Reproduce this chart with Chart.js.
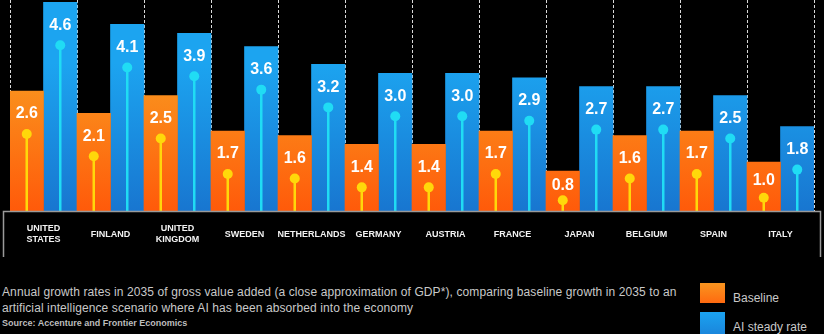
<!DOCTYPE html>
<html>
<head>
<meta charset="utf-8">
<script src="https://cdn.jsdelivr.net/npm/chart.js@4/dist/chart.umd.min.js"></script>
<style>
body{
margin:0;
background:#000;
width:824px;
height:334px;
overflow:hidden;
position:relative;
font-family:"Liberation Sans",Arial,sans-serif;
}
#wrap{
position:absolute;
left:0;
top:0;
width:824px;
height:260px;
}
.cap{
position:absolute;
left:2px;
color:#c9c9c9;
font-size:12px;
letter-spacing:0.1px;
white-space:nowrap;
}
.src{
position:absolute;
left:2px;
color:#bdbdbd;
font-size:9px;
font-weight:bold;
white-space:nowrap;
}
.key{
position:absolute;
left:700px;
width:25px;
}
.keytxt{
position:absolute;
left:733px;
color:#c9c9c9;
font-size:12px;
white-space:nowrap;
}
</style>
</head>
<body>

<div id="wrap"><canvas id="growthChart"></canvas></div>

<div class="cap" style="top:285px">Annual growth rates in 2035 of gross value added (a close approximation of GDP*), comparing baseline growth in 2035 to an</div>
<div class="cap" style="top:301px">artificial intelligence scenario where AI has been absorbed into the economy</div>
<div class="src" style="top:318px">Source: Accenture and Frontier Economics</div>

<div class="key" style="top:283px;height:20px;background:linear-gradient(#f9951f,#ff6a10)"></div>
<div class="keytxt" style="top:291px">Baseline</div>
<div class="key" style="top:312px;height:22px;background:linear-gradient(#1ba3f0,#1a86dc)"></div>
<div class="keytxt" style="top:320px">AI steady rate</div>

<script>

const countries = [
['UNITED','STATES'],
'FINLAND',
['UNITED','KINGDOM'],
'SWEDEN',
'NETHERLANDS',
'GERMANY',
'AUSTRIA',
'FRANCE',
'JAPAN',
'BELGIUM',
'SPAIN',
'ITALY'
];

const baseline =
[2.6,2.1,2.5,1.7,1.6,1.4,1.4,1.7,0.8,1.6,1.7,1.0];

const aiSteady =
[4.6,4.1,3.9,3.6,3.2,3.0,3.0,2.9,2.7,2.7,2.5,1.8];

const seriesNames = ['Baseline','AI steady rate'];

const stemColors = ['#ffd80a','#20dcf4'];

function barFill(top,bottom){
return function(context){
const area = context.chart.chartArea;
if(!area){
return bottom;
}
const g = context.chart.ctx.createLinearGradient(0,area.top,0,area.bottom);
g.addColorStop(0.3,top);
g.addColorStop(1,bottom);
return g;
};
}

// value, pin and stem inside every bar
const lollipops = {
id:'lollipops',
afterDatasetsDraw(chart){
const ctx = chart.ctx;
chart.data.datasets.forEach((ds,di) => {
const meta = chart.getDatasetMeta(di);
meta.data.forEach((bar,i) => {
const h = bar.base - bar.y;
const labelY = bar.y + Math.min(23,h*0.37);
const dotY = bar.y + Math.min(43,h*0.73);
ctx.save();
ctx.strokeStyle = stemColors[di];
ctx.fillStyle = stemColors[di];
ctx.lineWidth = 2.5;
ctx.beginPath();
ctx.moveTo(bar.x,dotY);
ctx.lineTo(bar.x,bar.base);
ctx.stroke();
ctx.beginPath();
ctx.arc(bar.x,dotY,5,0,Math.PI*2);
ctx.fill();
ctx.fillStyle = '#ffffff';
ctx.font = 'bold 16px "Liberation Sans", Arial, sans-serif';
ctx.textAlign = 'center';
ctx.textBaseline = 'middle';
ctx.fillText(ds.data[i].toFixed(1),bar.x,labelY);
ctx.restore();
});
});
}
};

// open frame round the country names
const labelFrame = {
id:'labelFrame',
afterDraw(chart){
const ctx = chart.ctx;
const y = Math.round(chart.chartArea.bottom) + 0.5;
ctx.save();
ctx.strokeStyle = '#9a9a9a';
ctx.lineWidth = 1.5;
ctx.beginPath();
ctx.moveTo(3.5,257);
ctx.lineTo(3.5,y);
ctx.lineTo(820.5,y);
ctx.lineTo(820.5,257);
ctx.stroke();
ctx.restore();
}
};

const ctx =
document
.getElementById('growthChart')
.getContext('2d');

new Chart(ctx,{

type:'bar',

data:{

labels:countries,

datasets:[
{
label:seriesNames[0],
data:baseline,
backgroundColor:barFill('#f99a20','#ff5a0a'),
borderWidth:0,
base:-0.1,
categoryPercentage:1,
barPercentage:1
},
{
label:seriesNames[1],
data:aiSteady,
backgroundColor:barFill('#1ca4f0','#1876d0'),
borderWidth:0,
base:-0.1,
categoryPercentage:1,
barPercentage:1
}
]
},

options:{
responsive:true,
maintainAspectRatio:false,
animation:false,
layout:{
padding:{left:10,right:10,top:0,bottom:0}
},
plugins:{
legend:{display:false},
tooltip:{enabled:false}
},
scales:{
x:{
offset:true,
grid:{
display:true,
offset:true,
color:'rgba(255,255,255,0.85)',
lineWidth:1,
drawTicks:false
},
border:{
display:false,
dash:[3,2]
},
ticks:{
color:'#f2f2f2',
padding:18,
crossAlign:'center',
maxRotation:0,
autoSkip:false,
font:{
family:'"Liberation Sans", Arial, sans-serif',
size:9,
weight:'bold',
lineHeight:1.12
}
},
afterFit(scale){
scale.height = 49;
}
},
y:{
display:false,
min:-0.1,
max:4.65
}
}
},

plugins:[lollipops,labelFrame]

});

</script>
</body>
</html>
